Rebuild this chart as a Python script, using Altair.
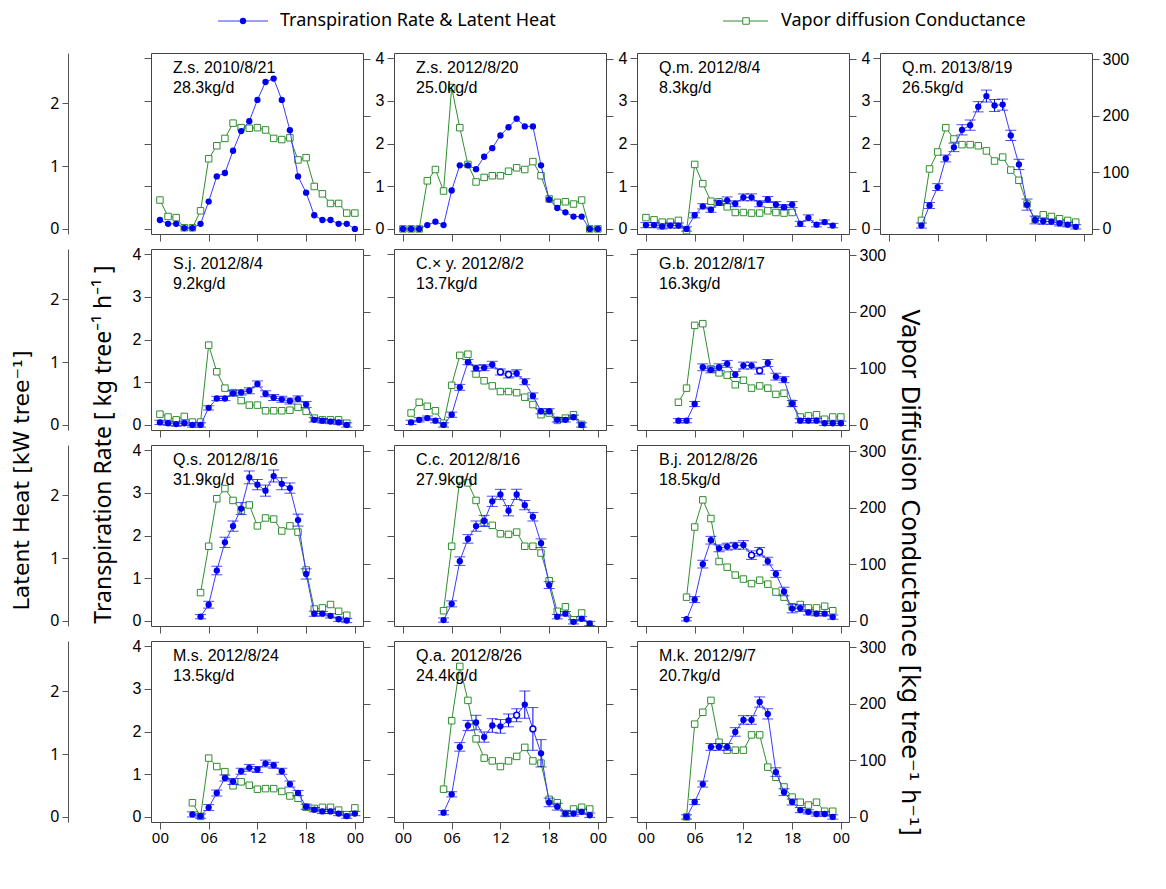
import altair as alt
import pandas as pd

# ---------------- data ----------------
SPECIES = ["Z.s.", "Z.s.", "Q.m.", "Q.m.", "S.j.", "C.× y.", "G.b.",
           "Q.s.", "C.c.", "B.j.", "M.s.", "Q.a.", "M.k."]
DATES = ["2010/8/21", "2012/8/20", "2012/8/4", "2013/8/19", "2012/8/4", "2012/8/2",
         "2012/8/17", "2012/8/16", "2012/8/16", "2012/8/26", "2012/8/24", "2012/8/26", "2012/9/7"]
TOTALS = ["28.3kg/d", "25.0kg/d", "8.3kg/d", "26.5kg/d", "9.2kg/d", "13.7kg/d", "16.3kg/d",
          "31.9kg/d", "27.9kg/d", "18.5kg/d", "13.5kg/d", "24.4kg/d", "20.7kg/d"]

# transpiration rate [kg tree-1 h-1], hourly, starting at RATE_START
RATE_START = [0, 0, 0, 4, 0, 1, 4, 5, 5, 5, 4, 5, 5]
RATE = [
    [0.21, 0.12, 0.12, 0.02, 0.02, 0.12, 0.64, 1.23, 1.31, 1.83, 2.29, 2.52, 3.02, 3.44, 3.52,
     3.02, 2.31, 1.23, 0.85, 0.32, 0.21, 0.21, 0.12, 0.12, 0.0],
    [0.0, 0.0, 0.0, 0.09, 0.17, 0.09, 0.90, 1.49, 1.49, 1.40, 1.69, 1.89, 2.19, 2.38, 2.58,
     2.40, 2.40, 1.49, 0.69, 0.49, 0.39, 0.29, 0.29, 0.0, 0.0],
    [0.09, 0.09, 0.06, 0.08, 0.08, 0.0, 0.32, 0.53, 0.45, 0.61, 0.67, 0.59, 0.74, 0.74, 0.59,
     0.69, 0.57, 0.51, 0.57, 0.12, 0.26, 0.10, 0.16, 0.08],
    [0.08, 0.55, 0.98, 1.65, 1.91, 2.32, 2.43, 2.86, 3.11, 2.89, 2.91, 2.19, 1.51, 0.57, 0.21,
     0.18, 0.17, 0.13, 0.10, 0.05],
    [0.06, 0.04, 0.02, 0.04, 0.0, 0.0, 0.40, 0.62, 0.62, 0.74, 0.76, 0.80, 0.96, 0.73, 0.64,
     0.60, 0.56, 0.61, 0.48, 0.12, 0.10, 0.08, 0.06, 0.0],
    [0.06, 0.12, 0.16, 0.10, 0.0, 0.24, 0.88, 1.47, 1.33, 1.34, 1.41, 1.24, 1.18, 1.21, 1.01,
     0.68, 0.32, 0.32, 0.12, 0.12, 0.18, 0.0, -0.45],
    [0.10, 0.10, 0.49, 1.35, 1.29, 1.35, 1.43, 1.18, 1.39, 1.39, 1.27, 1.45, 1.13, 1.06, 0.50,
     0.10, 0.10, 0.10, 0.04, 0.04, 0.04],
    [0.10, 0.38, 1.18, 1.84, 2.22, 2.63, 3.36, 3.19, 3.05, 3.39, 3.21, 3.11, 2.36, 1.10, 0.17,
     0.17, 0.12, 0.04, 0.01],
    [0.02, 0.40, 1.40, 1.92, 2.22, 2.34, 2.80, 2.96, 2.58, 2.96, 2.71, 2.44, 1.82, 0.84, 0.10,
     0.17, -0.02, 0.05, -0.06],
    [0.04, 0.50, 1.33, 1.89, 1.70, 1.74, 1.76, 1.78, 1.54, 1.62, 1.40, 1.10, 0.69, 0.29, 0.30,
     0.20, 0.17, 0.17, 0.09],
    [0.06, 0.02, 0.22, 0.56, 0.91, 0.83, 1.07, 1.15, 1.11, 1.25, 1.21, 1.07, 0.77, 0.56, 0.24,
     0.17, 0.13, 0.13, 0.08, 0.02, 0.08],
    [0.10, 0.53, 1.64, 2.14, 2.21, 1.87, 2.14, 2.12, 2.26, 2.38, 2.63, 2.06, 1.49, 0.34, 0.24,
     0.08, 0.08, 0.12, 0.04],
    [0.0, 0.35, 0.77, 1.64, 1.64, 1.64, 1.99, 2.27, 2.27, 2.69, 2.41, 1.05, 0.58, 0.35, 0.16,
     0.12, 0.07, 0.07, 0.0],
]
RATE_ERR = [
    [0] * 25,
    [0] * 25,
    [0.06, 0.06, 0.06, 0.06, 0.06, 0.05, 0.06, 0.06, 0.06, 0.06, 0.08, 0.07, 0.08, 0.08, 0.07,
     0.07, 0.07, 0.06, 0.07, 0.06, 0.07, 0.05, 0.05, 0.05],
    [0.06, 0.07, 0.08, 0.08, 0.10, 0.12, 0.12, 0.12, 0.14, 0.14, 0.13, 0.12, 0.12, 0.13, 0.09,
     0.07, 0.06, 0.06, 0.05, 0.05],
    [0.05, 0.05, 0.05, 0.05, 0.05, 0.05, 0.05, 0.05, 0.05, 0.06, 0.06, 0.07, 0.07, 0.07, 0.07,
     0.07, 0.07, 0.07, 0.07, 0.05, 0.05, 0.05, 0.05, 0.05],
    [0.05, 0.05, 0.05, 0.05, 0.05, 0.06, 0.07, 0.06, 0.07, 0.07, 0.08, 0.07, 0.08, 0.08, 0.07,
     0.07, 0.06, 0.06, 0.05, 0.05, 0.05, 0.05, 0.05],
    [0.05, 0.05, 0.06, 0.08, 0.07, 0.08, 0.08, 0.07, 0.08, 0.08, 0.08, 0.08, 0.08, 0.07, 0.07,
     0.05, 0.05, 0.05, 0.05, 0.05, 0.05],
    [0.05, 0.08, 0.1, 0.12, 0.12, 0.14, 0.15, 0.12, 0.13, 0.14, 0.14, 0.12, 0.14, 0.12, 0.06,
     0.05, 0.05, 0.05, 0.05],
    [0.05, 0.07, 0.1, 0.1, 0.12, 0.13, 0.12, 0.12, 0.12, 0.12, 0.11, 0.1, 0.1, 0.08, 0.05,
     0.05, 0.05, 0.05, 0.05],
    [0.04, 0.07, 0.09, 0.09, 0.08, 0.08, 0.08, 0.1, 0.1, 0.1, 0.09, 0.08, 0.1, 0.1, 0.08,
     0.06, 0.05, 0.05, 0.05],
    [0.06, 0.05, 0.07, 0.07, 0.07, 0.07, 0.07, 0.08, 0.07, 0.08, 0.07, 0.07, 0.07, 0.06, 0.06,
     0.05, 0.05, 0.05, 0.05, 0.05, 0.05],
    [0.05, 0.06, 0.1, 0.12, 0.17, 0.12, 0.16, 0.16, 0.15, 0.15, 0.32, 0.5, 0.32, 0.1, 0.08,
     0.06, 0.06, 0.06, 0.05],
    [0.05, 0.06, 0.07, 0.08, 0.08, 0.08, 0.1, 0.1, 0.1, 0.12, 0.12, 0.1, 0.08, 0.07, 0.06,
     0.05, 0.05, 0.05, 0.05],
]
# hours whose transpiration marker is drawn hollow
OPEN_HOURS = [[], [], [], [], [], [12, 13], [14], [], [], [13, 14], [], [14, 16], []]

# vapor diffusion conductance [kg tree-1 h-1], hourly, starting at COND_START
COND_START = [0, 0, 0, 4, 0, 1, 4, 5, 5, 5, 4, 5, 5]
COND = [
    [51, 22, 20, 2, 2, 32, 124, 147, 160, 187, 179, 178, 179, 175, 160, 158, 161, 122, 126, 75,
     62, 45, 45, 28, 28],
    [0, 0, 0, 85, 105, 67, 250, 179, 114, 83, 91, 94, 94, 102, 108, 105, 119, 94, 53, 47, 48,
     44, 51, 0, 0],
    [20, 16, 12, 12, 15, -3, 114, 80, 49, 48, 39, 29, 29, 28, 28, 32, 29, 28, 29],
    [15, 106, 136, 179, 159, 149, 149, 147, 138, 120, 127, 104, 86, 44, 17, 25, 22, 18, 15, 12],
    [19, 14, 9, 15, 5, 5, 141, 94, 65, 57, 43, 35, 35, 25, 25, 25, 26, 31, 24, 12, 9, 9, 9, 3],
    [21, 40, 33, 25, 3, 70, 123, 125, 90, 78, 69, 59, 59, 57, 49, 36, 18, 21, 8, 12, 18, 1],
    [40, 65, 176, 179, 99, 92, 88, 71, 79, 65, 69, 65, 54, 56, 38, 14, 16, 18, 10, 14, 14],
    [50, 132, 216, 234, 213, 195, 205, 168, 182, 180, 159, 168, 157, 90, 21, 23, 29, 17, 10],
    [18, 132, 250, 244, 213, 174, 169, 154, 153, 157, 132, 132, 120, 71, 17, 25, 2, 14, -13],
    [42, 166, 214, 181, 105, 95, 81, 74, 66, 72, 65, 51, 42, 25, 29, 23, 23, 26, 18],
    [25, 1, 104, 89, 80, 55, 62, 56, 49, 50, 50, 45, 37, 33, 17, 15, 17, 17, 12, 4, 16],
    [49, 170, 266, 206, 138, 104, 99, 89, 99, 107, 123, 99, 95, 31, 25, 6, 14, 17, 14],
    [0, 164, 185, 206, 132, 118, 118, 118, 145, 145, 88, 70, 53, 35, 26, 21, 26, 10, 10],
]

LAYOUT = [[0, 1, 2, 3], [4, 5, 6, None], [7, 8, 9, None], [10, 11, 12, None]]
NCOLS_IN_ROW = [4, 3, 3, 3]
HOUR_TICKS = [0, 6, 12, 18, 24]
RATE_TICKS = [0, 1, 2, 3, 4]
COND_TICKS = [0, 100, 200, 300]
LATENT_TICKS = [0, 1, 2]
LEGEND_LABELS = ["Transpiration Rate & Latent Heat", "Vapor diffusion Conductance"]
TITLE_RATE = "Transpiration Rate [ kg tree⁻¹ h⁻¹ ]"
TITLE_LATENT = "Latent Heat [kW tree⁻¹]"
TITLE_COND = "Vapor Diffusion Conductance [kg tree⁻¹ h⁻¹]"

# ---------------- style ----------------
BLUE = "#0000f0"
BLUE_LINE = "#3a3aff"
GREEN = "#2f8f2f"
GRAY = "#555555"
W, H = 212, 181
X_DOMAIN = [-1.1, 25.0]
LEFT_DOMAIN = [-0.118, 4.118]
RIGHT_DOMAIN = [-9, 311]
KW_PER_KG_H = 0.68
LATENT_DOMAIN = [LEFT_DOMAIN[0] * KW_PER_KG_H, LEFT_DOMAIN[1] * KW_PER_KG_H]
TICK_FONT = "Liberation Sans"
TITLE_FONT = "Noto Sans"
WIDE_FONT = "DejaVu Sans"


def rate_frame(i):
    s = RATE_START[i]
    hours = list(range(s, s + len(RATE[i])))
    return pd.DataFrame({"hour": hours, "rate": RATE[i], "err": RATE_ERR[i],
                         "hollow": [h in OPEN_HOURS[i] for h in hours]})


def cond_frame(i):
    s = COND_START[i]
    return pd.DataFrame({"hour": list(range(s, s + len(COND[i]))), "cond": COND[i]})


def title_style(size, font):
    return dict(titleAlign="center", titleBaseline="middle", titleFont=font,
                titleFontSize=size, titleFontWeight="normal", titleColor="black")


def make_panel(i, r, c, ncols):
    show_left = (r == 0 and c > 0) or (r > 0 and c == 0)
    show_right = c == ncols - 1
    show_x = r == 3
    span_titles = (r == 1)

    xenc = alt.X("hour:Q", scale=alt.Scale(domain=X_DOMAIN, nice=False, zero=False),
                 axis=alt.Axis(values=HOUR_TICKS, labels=show_x, title=None, grid=False,
                               domain=False, tickSize=7, tickColor=GRAY,
                               labelExpr="datum.value == 24 ? '00' : (datum.value < 10 ? '0' + datum.value : '' + datum.value)",
                               labelFont=TITLE_FONT, labelFontSize=15, labelColor="black",
                               labelPadding=1))

    left_kw = dict(orient="left", values=RATE_TICKS, labels=show_left, grid=False, domain=False,
                   tickSize=7, tickColor=GRAY, labelFont=TICK_FONT, labelFontSize=16,
                   labelColor="black", labelPadding=3, title=None)
    if span_titles and c == 0:
        left_kw.update(title=TITLE_RATE, titleX=-48, titleY=195, titleAngle=270,
                       **title_style(23, TITLE_FONT))
    left_axis = alt.Axis(**left_kw)
    lscale = alt.Scale(domain=LEFT_DOMAIN, nice=False, zero=False)

    right_kw = dict(orient="right", values=COND_TICKS, labels=show_right, grid=False,
                    domain=False, tickSize=7, tickColor=GRAY, labelFont=TICK_FONT,
                    labelFontSize=16, labelColor="black", labelPadding=3, title=None)
    if span_titles and c == ncols - 1:
        right_kw.update(title=TITLE_COND, titleX=59, titleY=323, titleAngle=90,
                        **title_style(24, WIDE_FONT))
    right_axis = alt.Axis(**right_kw)
    rscale = alt.Scale(domain=RIGHT_DOMAIN, nice=False, zero=False)

    rdf = rate_frame(i)
    base_b = alt.Chart(rdf).transform_calculate(lo="datum.rate - datum.err",
                                                hi="datum.rate + datum.err")
    errs = base_b.transform_filter("datum.err > 0")
    yb = lambda f: alt.Y(f, type="quantitative", scale=lscale, axis=left_axis)
    blue = alt.layer(
        errs.mark_rule(color=BLUE, strokeWidth=1, clip=True).encode(x=xenc, y=yb("lo"), y2="hi:Q"),
        errs.mark_tick(color=BLUE, orient="horizontal", size=11, thickness=1, clip=True).encode(x=xenc, y=yb("lo")),
        errs.mark_tick(color=BLUE, orient="horizontal", size=11, thickness=1, clip=True).encode(x=xenc, y=yb("hi")),
        base_b.mark_line(color=BLUE_LINE, strokeWidth=1, clip=True).encode(x=xenc, y=yb("rate")),
        base_b.transform_filter("!datum.hollow").mark_circle(color=BLUE, size=40, opacity=1, clip=True).encode(
            x=xenc, y=yb("rate")),
        base_b.transform_filter("datum.hollow").mark_point(shape="circle", fill="white", fillOpacity=1,
                                                           stroke=BLUE, strokeWidth=1.5, size=34,
                                                           opacity=1, clip=True).encode(
            x=xenc, y=yb("rate")),
    )

    cdf = cond_frame(i)
    yg = lambda f: alt.Y(f, type="quantitative", scale=rscale, axis=right_axis)
    green = alt.layer(
        alt.Chart(cdf).mark_line(color=GREEN, strokeWidth=1, clip=True).encode(x=xenc, y=yg("cond")),
        alt.Chart(cdf).mark_point(shape="square", fill="white", fillOpacity=1, stroke=GREEN,
                                  strokeWidth=1, size=42, opacity=1, clip=True).encode(x=xenc, y=yg("cond")),
    )

    layers = [green, blue]

    if c == 0:
        lat_kw = dict(orient="left", offset=83, values=LATENT_TICKS, grid=False, domain=True,
                      domainColor=GRAY, tickSize=6, tickColor=GRAY, labelFont=TITLE_FONT,
                      labelFontSize=16, labelColor="black", labelPadding=3, title=None)
        if span_titles:
            lat_kw.update(title=TITLE_LATENT, titleX=-47, titleY=231, titleAngle=270,
                          **title_style(22, WIDE_FONT))
        # axis-only layer (kW scale); no visible marks
        latent = alt.Chart(rdf).transform_filter("false").mark_point(opacity=0, clip=True).encode(
            x=xenc,
            y=alt.Y("rate:Q", scale=alt.Scale(domain=LATENT_DOMAIN, nice=False, zero=False),
                    axis=alt.Axis(**lat_kw)))
        layers.append(latent)

    info = pd.DataFrame({"head": [f"{SPECIES[i]} {DATES[i]}"], "total": [TOTALS[i]]})
    tbase = alt.Chart(info)
    layers.append(tbase.mark_text(align="left", baseline="alphabetic", font=TICK_FONT,
                                  fontSize=16, color="black").encode(
        x=alt.value(22), y=alt.value(20), text="head:N"))
    layers.append(tbase.mark_text(align="left", baseline="alphabetic", font=TICK_FONT,
                                  fontSize=16, color="black").encode(
        x=alt.value(22), y=alt.value(40), text="total:N"))

    if r == 0 and c == 0:
        leg = pd.DataFrame({"a": [LEGEND_LABELS[0]], "b": [LEGEND_LABELS[1]]})
        lb = alt.Chart(leg)
        layers += [
            lb.mark_rule(color=BLUE_LINE, strokeWidth=1).encode(x=alt.value(67), x2=alt.value(117), y=alt.value(-32)),
            lb.mark_circle(color=BLUE, size=40, opacity=1).encode(x=alt.value(92), y=alt.value(-32)),
            lb.mark_text(align="left", baseline="middle", font=TITLE_FONT, fontSize=18,
                         color="black").encode(x=alt.value(129), y=alt.value(-32), text="a:N"),
            lb.mark_rule(color=GREEN, strokeWidth=1).encode(x=alt.value(572), x2=alt.value(617), y=alt.value(-32)),
            lb.mark_point(shape="square", fill="white", fillOpacity=1, stroke=GREEN,
                          strokeWidth=1, size=42, opacity=1).encode(x=alt.value(595), y=alt.value(-32)),
            lb.mark_text(align="left", baseline="middle", font=TITLE_FONT, fontSize=18,
                         color="black").encode(x=alt.value(630), y=alt.value(-32), text="b:N"),
        ]

    return alt.layer(*layers).resolve_scale(y="independent").resolve_axis(y="independent").properties(
        width=W, height=H)


def empty_cell():
    return alt.Chart(pd.DataFrame({"v": [0]})).mark_point(opacity=0).encode(
        x=alt.X("v:Q", axis=None), y=alt.Y("v:Q", axis=None)
    ).properties(width=W, height=H, view=alt.ViewBackground(stroke="transparent"))


cells = []
for r, row in enumerate(LAYOUT):
    for c, i in enumerate(row):
        cells.append(empty_cell() if i is None else make_panel(i, r, c, NCOLS_IN_ROW[r]))

chart = alt.concat(*cells, columns=4, spacing=alt.RowColnumber(row=15, column=31),
                   bounds="flush").properties(
    padding={"left": 1, "top": 3, "right": 5, "bottom": 5},
    background="white",
).configure_view(stroke="#444444", strokeWidth=1)

chart.save("out.html", embed_options={"renderer": "svg", "actions": False})
